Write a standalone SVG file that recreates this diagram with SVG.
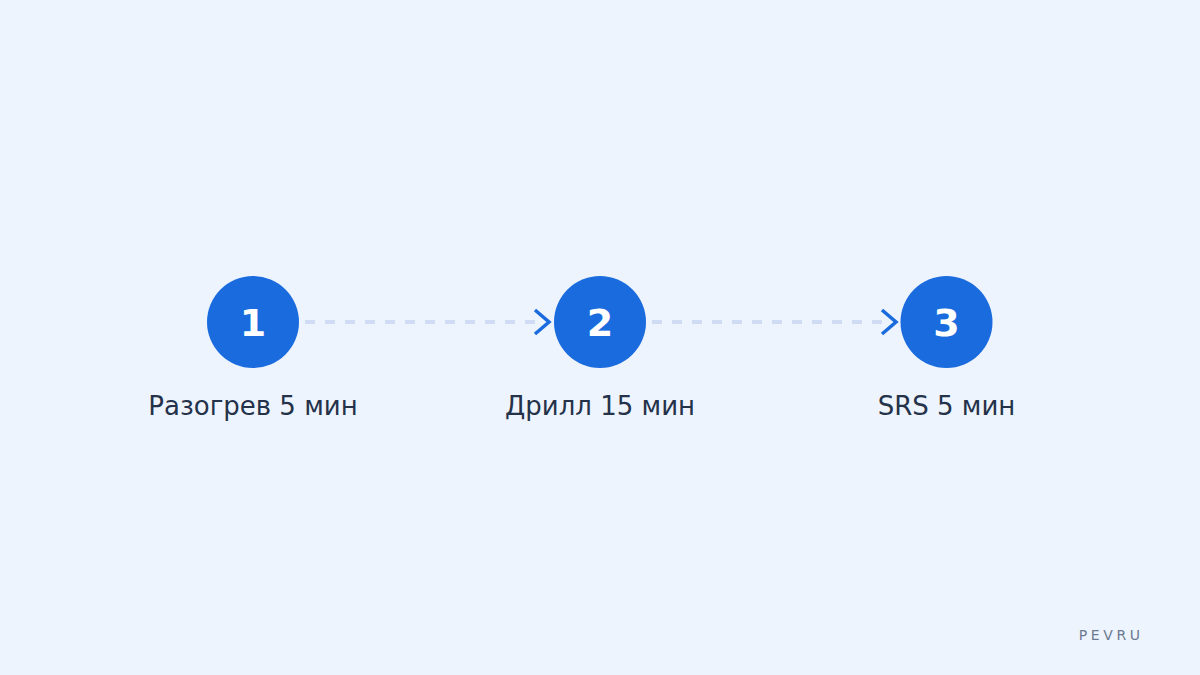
<svg xmlns="http://www.w3.org/2000/svg" width="1200" height="675" viewBox="0 0 1200 675">
  <style>
    .node circle { fill: #1a6bde; }
    .num { font-family: "DejaVu Sans", sans-serif; font-weight: bold; font-size: 38px; fill: #ffffff; text-anchor: middle; }
    .label { font-family: "DejaVu Sans", sans-serif; font-size: 26px; fill: #24324a; text-anchor: middle; }
    .dash { stroke: #cfdcf4; stroke-width: 4; stroke-dasharray: 10 10; fill: none; }
    .chev { stroke: #1a6bde; stroke-width: 3.5; fill: none; stroke-linecap: butt; stroke-linejoin: miter; }
    .brand { font-family: "DejaVu Sans", sans-serif; font-size: 14px; fill: #6b7a90; letter-spacing: 3.6px; text-anchor: end; }
  </style>
  <rect width="1200" height="675" fill="#eef4fe"/>
  <g id="connectors">
    <line class="dash" x1="305" y1="322" x2="540" y2="322"/>
    <polyline class="chev" points="535,310 549,322 535,334"/>
    <line class="dash" x1="652" y1="322" x2="887" y2="322"/>
    <polyline class="chev" points="882,310 896,322 882,334"/>
  </g>
  <g id="node1" class="node">
    <circle cx="253" cy="322" r="46"/>
    <text class="num" x="253" y="336">1</text>
    <text class="label" x="253" y="415">Разогрев 5 мин</text>
  </g>
  <g id="node2" class="node">
    <circle cx="600" cy="322" r="46"/>
    <text class="num" x="600" y="336">2</text>
    <text class="label" x="600" y="415">Дрилл 15 мин</text>
  </g>
  <g id="node3" class="node">
    <circle cx="946.5" cy="322" r="46"/>
    <text class="num" x="946.5" y="336">3</text>
    <text class="label" x="946.5" y="415">SRS 5 мин</text>
  </g>
  <text class="brand" x="1143.6" y="640">PEVRU</text>
</svg>
